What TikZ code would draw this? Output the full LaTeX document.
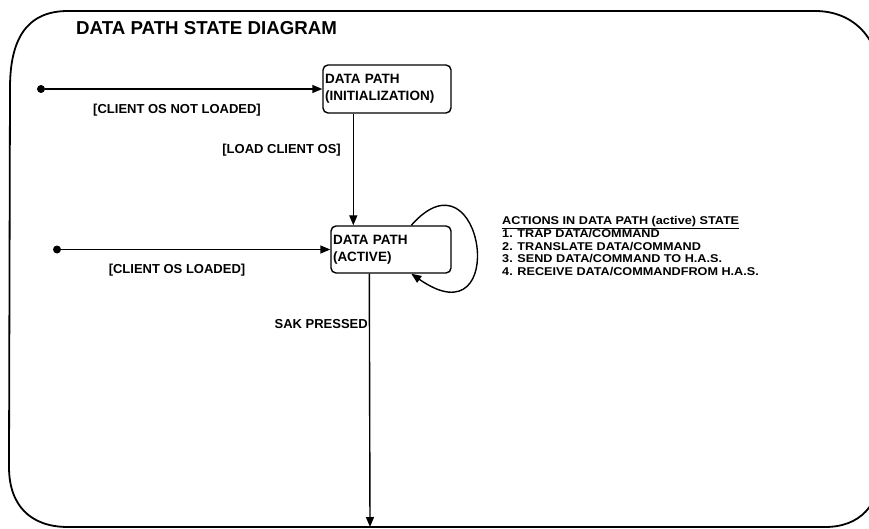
\documentclass[tikz,border=0pt]{standalone}
\usepackage{fontspec}
\setmainfont{Liberation Sans}
\usepackage{tikz}
\usetikzlibrary{positioning, arrows.meta, calc}

\begin{document}
\begin{tikzpicture}[
    x=1pt, y=1pt,
    statebox/.style={draw, line width=1.4pt, rounded corners=5pt, inner xsep=1.5pt, align=left, font=\bfseries\fontsize{13.5}{17}\selectfont},
    startdot/.style={circle, fill, inner sep=0pt, minimum size=8pt},
    arrow/.style={-{Triangle[length=10pt, width=8pt]}, line width=1.4pt},
    guard/.style={inner sep=0pt, font=\bfseries\fontsize{13}{15}\selectfont}
]
    \useasboundingbox (0,0) rectangle (869,-529);

    % Outer frame
    \draw[line width=1.8pt] (10,-88) .. controls (10,-40) and (26,-11) .. (68,-11)
        -- (815,-11) .. controls (855,-11) and (880,-40) .. (880,-80)
        -- (880,-470) .. controls (880,-505) and (860,-527) .. (825,-527)
        -- (68,-527) .. controls (30,-527) and (9,-505) .. (9,-467) -- cycle;

    % Title
    \node[anchor=west, inner sep=0pt, font=\bfseries\fontsize{18.7}{22}\selectfont] (title) at (76,-28.5) {DATA PATH STATE DIAGRAM};

    % States
    \node[statebox, minimum width=128pt, minimum height=48pt, text width=124pt] (init) at (387,-89) {DATA PATH\\(INITIALIZATION)};
    \node[statebox, minimum width=120pt, minimum height=47pt, text width=116pt] (active) at (391,-249.5) {DATA PATH\\(ACTIVE)};

    % Start points
    \node[startdot] (start1) at (41,-89) {};
    \node[startdot] (start2) at (57,-249.5) {};
    \coordinate (exit) at (370,-527);

    % Guards
    \node[guard] (notloaded) at (177,-110) {[CLIENT OS NOT LOADED]};
    \node[guard, anchor=east] (loados) at (341,-150) {[LOAD CLIENT OS]};
    \node[guard] (loaded) at (177,-270) {[CLIENT OS LOADED]};
    \node[guard, anchor=east] (sak) at (368,-324) {SAK PRESSED};

    % Actions
    \node[anchor=north west, inner sep=0pt, align=left, xscale=1.12, transform shape, font=\bfseries\fontsize{11.3}{12.4}\selectfont] (actions) at (502,-216)
        {\underline{ACTIONS IN DATA PATH (active) STATE}\\
         1. TRAP DATA/COMMAND\\
         2. TRANSLATE DATA/COMMAND\\
         3. SEND DATA/COMMAND TO H.A.S.\\
         4. RECEIVE DATA/COMMANDFROM H.A.S.};

    % Arrows
    \draw[arrow] (start1) -- (init.west);
    \draw[arrow] (start2) -- (active.west);
    \draw[arrow] ([xshift=31pt]init.south west) -- ([xshift=23pt]active.north west);
    \draw[arrow] ([xshift=81pt]active.north west) .. controls +(72,82) and +(100,-70) .. ([xshift=81pt]active.south west);
    \draw[arrow] ([xshift=39pt]active.south west) -- (exit);

\end{tikzpicture}
\end{document}
